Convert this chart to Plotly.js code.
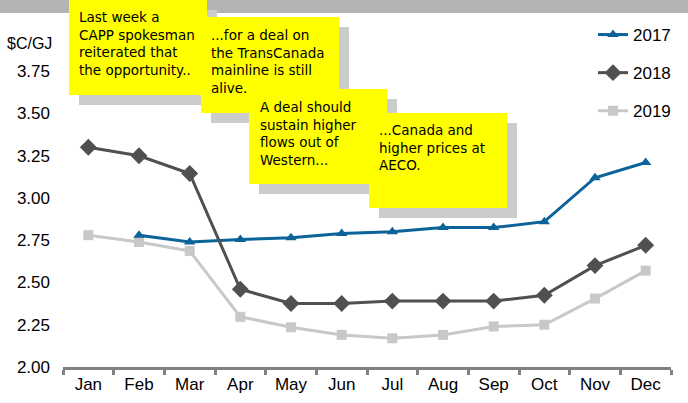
<!DOCTYPE html>
<html><head><meta charset="utf-8">
<script src="https://cdn.plot.ly/plotly-3.0.1.min.js"></script>
<style>html,body{margin:0;padding:0;background:#fff}#chart{width:688px;height:403px}</style>
</head><body><div id="chart"></div>
<script>
const months = ["Jan","Feb","Mar","Apr","May","Jun","Jul","Aug","Sep","Oct","Nov","Dec"];
const y2017 = [null,2.78,2.74,2.755,2.765,2.79,2.80,2.825,2.825,2.86,3.12,3.21];
const y2018 = [3.30,3.25,3.145,2.46,2.376,2.376,2.39,2.39,2.39,2.425,2.60,2.72];
const y2019 = [2.78,2.74,2.687,2.297,2.235,2.19,2.17,2.19,2.24,2.25,2.405,2.57];
const yTicks = [2.00,2.25,2.50,2.75,3.00,3.25,3.50,3.75];
const notes = [
  "Last week a<br>CAPP spokesman<br>reiterated that<br>the opportunity..",
  "...for a deal on<br>the TransCanada<br>mainline is still<br>alive.",
  "A deal should<br>sustain higher<br>flows out of<br>Western...",
  "...Canada and<br>higher prices at<br>AECO."
];

const W=688,H=403,L=63,R=17,T=29,B=36;
const pw=W-L-R, ph=H-T-B;
const px=x=>(x-L)/pw, py=y=>(H-B-y)/ph;

const traces = [
  {name:"2019",y:y2019,color:"#C8C8C8",sym:"square",size:10,lg:"c"},
  {name:"2017",y:y2017,color:"#0B6399",sym:"triangle-up",size:10,lg:"a"},
  {name:"2018",y:y2018,color:"#505050",sym:"diamond",size:13,lg:"b"}
].map(t=>({type:"scatter",mode:"lines+markers",x:months,y:t.y,name:t.name,legendgroup:t.lg,
  legendrank: t.name==="2017"?1:(t.name==="2018"?2:3),
  line:{color:t.color,width:3},marker:{symbol:t.sym,size:t.size,color:t.color},connectgaps:false}));

// boxes: [x0,y0,x1,y1,textX,textY]
const boxes=[[69,0,207,95,77,7],[201,17,339,113,209,25],[249,89,387,184,258,97],[369,113,507,208,377,120]];
const shapes=[{type:"rect",xref:"paper",yref:"paper",x0:px(0),x1:px(688),y0:py(0),y1:py(13),fillcolor:"#B4B4B4",line:{width:0},layer:"above"}];
const annotations=[{xref:"paper",yref:"paper",x:px(5),y:py(43),xanchor:"left",yanchor:"middle",text:"$C/GJ",showarrow:false,font:{family:"Liberation Sans, Arial",size:16,color:"#000"}}];
boxes.forEach((b,i)=>{
  shapes.push({type:"rect",xref:"paper",yref:"paper",x0:px(b[0]+10),x1:px(b[2]+10),y0:py(b[1]+10),y1:py(b[3]+10),fillcolor:"#CCCCCC",line:{width:0},layer:"above"});
  shapes.push({type:"rect",xref:"paper",yref:"paper",x0:px(b[0]),x1:px(b[2]),y0:py(b[1]),y1:py(b[3]),fillcolor:"#FFFF00",line:{width:0},layer:"above"});
});
const layout={
  width:W,height:H,margin:{l:L,r:R,t:T,b:B},paper_bgcolor:"#fff",plot_bgcolor:"#fff",
  showlegend:true,
  legend:{x:px(593),y:py(17),xanchor:"left",yanchor:"top",bgcolor:"rgba(0,0,0,0)",traceorder:"grouped",tracegroupgap:13,font:{family:"Liberation Sans, Arial",size:17,color:"#000"}},
  xaxis:{type:"category",range:[-0.5,11.5],showgrid:false,zeroline:false,showline:true,linecolor:"#808080",linewidth:3,
    ticks:"outside",tickson:"boundaries",ticklen:5,tickwidth:3,tickcolor:"#808080",
    tickfont:{family:"Liberation Sans, Arial",size:17,color:"#000"}},
  yaxis:{range:[2,4],tickvals:yTicks,ticktext:yTicks.map(v=>v.toFixed(2)),showgrid:false,zeroline:false,showline:false,ticks:"",
    ticklabelstandoff:12,tickfont:{family:"Liberation Sans, Arial",size:17,color:"#000"}},
  shapes:shapes,annotations:annotations
};
boxes.forEach((b,i)=>{
  annotations.push({xref:"paper",yref:"paper",x:px(b[4]),y:py(b[5]),xanchor:"left",yanchor:"top",align:"left",text:notes[i],showarrow:false,
    font:{family:"DejaVu Sans",size:13.5,color:"#000"}});
});
Plotly.newPlot("chart",traces,layout,{displayModeBar:false,staticPlot:true});
</script></body></html>
